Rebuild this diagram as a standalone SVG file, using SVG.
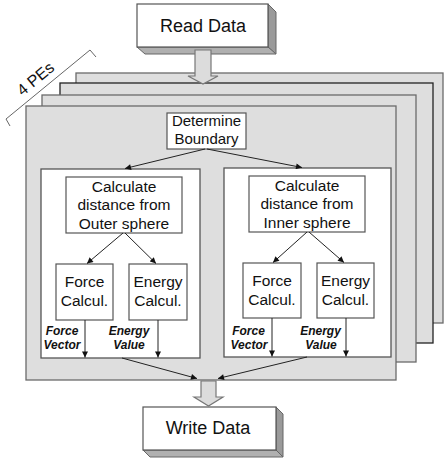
<svg xmlns="http://www.w3.org/2000/svg" width="444" height="459" viewBox="0 0 444 459">
<style>
text{font-family:"Liberation Sans",Arial,sans-serif;fill:#111;text-anchor:middle}
.big{font-size:18px}
.mid{font-size:15.5px}
.lbl{font-size:12px;font-weight:bold;font-style:italic}
.pe{fill:#dedede;stroke:#6a6a6a;stroke-width:1.3}
.box{fill:#fff;stroke:#555;stroke-width:1.2}
.inner{fill:#fff;stroke:#555;stroke-width:1.3}
.side{fill:#9a9a9a;stroke:#666;stroke-width:1}
.bot{fill:#b0b0b0;stroke:#666;stroke-width:1}
.blk{fill:#dcdcdc;stroke:#777;stroke-width:1.2}
.con{stroke:#222;stroke-width:1;fill:none;marker-end:url(#ah)}
</style>
<defs>
<marker id="ah" viewBox="0 0 10 10" refX="10" refY="5" markerWidth="7" markerHeight="6" markerUnits="userSpaceOnUse" orient="auto">
<path d="M0,0 L10,5 L0,10 z" fill="#111"/>
</marker>
</defs>

<g id="pe-stack">
<rect class="pe" x="76" y="73" width="367" height="250"/>
<rect class="pe" x="60" y="83" width="373" height="260" style="stroke:#222"/>
<rect class="pe" x="42" y="95" width="374" height="267"/>
<rect class="pe" x="26" y="106" width="370" height="274"/>
</g>

<g id="pe-label">
<path d="M6,119 L90,50 L96,57 M6,119 L10,126" fill="none" stroke="#666" stroke-width="1"/>
<text style="font-size:16px" transform="translate(39,83) rotate(-39.4)">4 PEs</text>
</g>

<g id="read-data">
<polygon class="side" points="268,4 276,12 276,54 268,47"/>
<polygon class="bot" points="137,47 145,54 276,54 268,47"/>
<rect class="box" x="137" y="4" width="131" height="43"/>
<text class="big" x="203" y="32">Read Data</text>
</g>

<g id="write-data">
<polygon class="side" points="276,407 283,414 283,457 276,450"/>
<polygon class="bot" points="143,450 150,457 283,457 276,450"/>
<rect class="box" x="143" y="407" width="133" height="43"/>
<text class="big" x="208" y="434">Write Data</text>
</g>

<g id="determine-boundary">
<rect class="box" x="167" y="113" width="79" height="36"/>
<text class="mid" style="font-size:15px" x="206.5" y="126">Determine</text>
<text class="mid" style="font-size:15px" x="206.5" y="144">Boundary</text>
</g>

<g id="outer-group">
<rect class="inner" x="41" y="169" width="159" height="189"/>
</g>
<g id="inner-group">
<rect class="inner" x="224" y="168" width="167" height="189"/>
</g>

<g id="calc-outer">
<rect class="box" x="66" y="177" width="116" height="56"/>
<text class="mid" x="124" y="191.5">Calculate</text>
<text class="mid" x="124" y="210">distance from</text>
<text class="mid" x="124" y="228.5">Outer sphere</text>
</g>
<g id="calc-inner">
<rect class="box" x="249" y="176" width="116" height="56"/>
<text class="mid" x="307" y="190.5">Calculate</text>
<text class="mid" x="307" y="209">distance from</text>
<text class="mid" x="307" y="227.5">Inner sphere</text>
</g>

<g id="force-left">
<rect class="box" x="56" y="264" width="57" height="56"/>
<text class="mid" x="84.5" y="287">Force</text>
<text class="mid" x="84.5" y="306">Calcul.</text>
</g>
<g id="energy-left">
<rect class="box" x="129" y="264" width="58" height="56"/>
<text class="mid" x="158" y="287">Energy</text>
<text class="mid" x="158" y="306">Calcul.</text>
</g>
<g id="force-right">
<rect class="box" x="243" y="263" width="58" height="55"/>
<text class="mid" x="272" y="286">Force</text>
<text class="mid" x="272" y="305">Calcul.</text>
</g>
<g id="energy-right">
<rect class="box" x="317" y="263" width="57" height="55"/>
<text class="mid" x="345.5" y="286">Energy</text>
<text class="mid" x="345.5" y="305">Calcul.</text>
</g>

<g id="connectors">
<line class="con" x1="205" y1="149" x2="125" y2="168.5"/>
<line class="con" x1="207" y1="149" x2="302" y2="167.5"/>
<line class="con" x1="123" y1="233" x2="87" y2="263.5"/>
<line class="con" x1="125" y1="233" x2="156" y2="263.5"/>
<line class="con" x1="307" y1="232" x2="273" y2="262.5"/>
<line class="con" x1="309" y1="232" x2="344" y2="262.5"/>
<line class="con" x1="85" y1="320" x2="85" y2="357.5"/>
<line class="con" x1="158" y1="320" x2="158" y2="357.5"/>
<line class="con" x1="272" y1="318" x2="272" y2="356.5"/>
<line class="con" x1="346" y1="318" x2="346" y2="356.5"/>
<line class="con" x1="122" y1="358" x2="197" y2="378.5"/>
<line class="con" x1="307" y1="357" x2="218" y2="378.5"/>
<polygon class="blk" points="195,50 211,50 211,76 218,76 203,84 188,76 195,76"/>
<polygon class="blk" points="201,381 216,381 216,397 223,397 208.5,406 194,397 201,397"/>
</g>

<g id="labels">
<text class="lbl" x="62" y="335">Force</text>
<text class="lbl" x="62" y="349">Vector</text>
<text class="lbl" x="129" y="335">Energy</text>
<text class="lbl" x="129" y="349">Value</text>
<text class="lbl" x="248.5" y="335">Force</text>
<text class="lbl" x="249" y="349">Vector</text>
<text class="lbl" x="320.5" y="335">Energy</text>
<text class="lbl" x="321" y="349">Value</text>
</g>
</svg>
